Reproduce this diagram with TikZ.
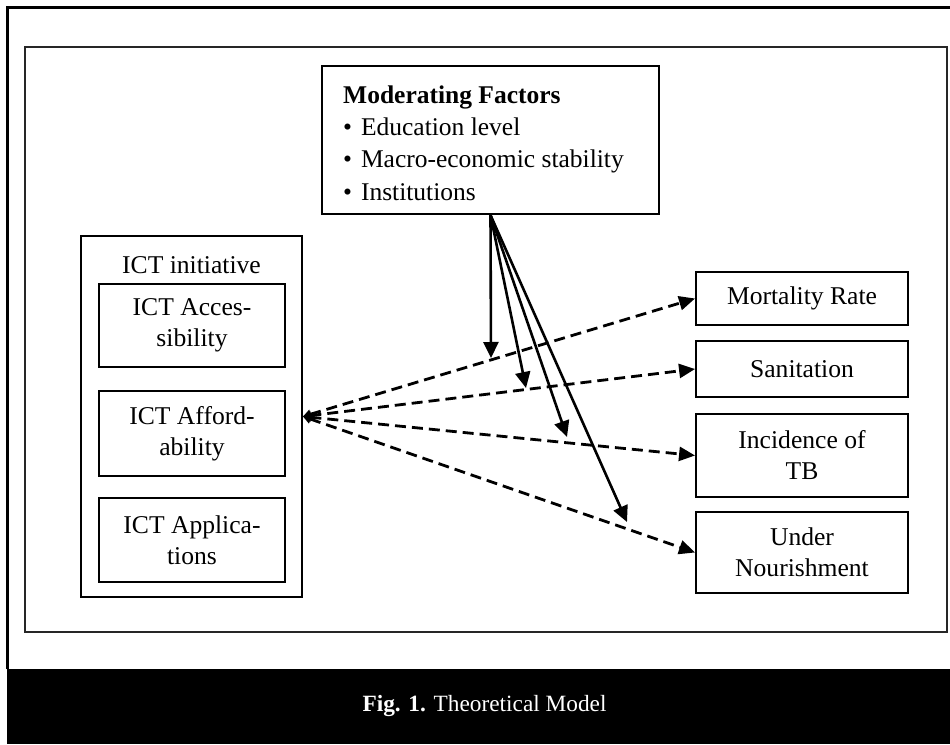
\documentclass[tikz,border=0pt]{standalone}
\usepackage{fontspec}
\setmainfont{Liberation Serif}
\usetikzlibrary{arrows.meta}
\begin{document}
\begin{tikzpicture}[x=1pt,y=-1pt,
  txt/.style={font=\fontsize{25.6}{31}\selectfont},
  modtxt/.style={font=\fontsize{25.5}{32}\selectfont, anchor=base west, inner sep=0pt},
  box/.style={draw=black, line width=1.9pt, align=center, inner sep=0pt, txt},
  dashlink/.style={line width=2.8pt, dash pattern=on 11pt off 6pt,
     {Triangle[length=8pt,width=9pt]}-{Triangle[length=16pt,width=14pt]}},
  modlink/.style={line width=2.6pt, -{Triangle[length=16pt,width=15pt]}}
]
\useasboundingbox (0,0) rectangle (950,744);
% outer frame and caption band
\draw[line width=2.2pt] (7.5,669) -- (7.5,7.5) -- (960,7.5);
\fill[black] (6.5,669) rectangle (950,744);
\node[anchor=base, text=white, inner sep=0pt, font=\fontsize{23.3}{28}\selectfont] (cap) at (484.5,711) {\textbf{Fig. 1.} Theoretical Model};
% inner frame
\draw[line width=2pt, draw=black!85] (25,47) rectangle (946.5,631.5);

% moderating factors
\node[box, line width=2.2pt, minimum width=337pt, minimum height=148pt] (mod) at (490.5,140) {};
\node[modtxt] (modtitle) at (343,103) {\textbf{Moderating Factors}};
\node[modtxt] (mod1) at (343,135) {•\hspace{0.35em}Education level};
\node[modtxt] (mod2) at (343,167) {•\hspace{0.35em}Macro-economic stability};
\node[modtxt] (mod3) at (343,200) {•\hspace{0.35em}Institutions};

% ICT initiative
\node[box, minimum width=221pt, minimum height=361pt] (ict) at (191.5,416.5) {};
\node[txt, anchor=base, inner sep=0pt] (icttitle) at (191.5,273) {ICT initiative};
\node[box, minimum width=186pt, minimum height=83pt] (acc) at (192,325.5) {ICT Acces-\\sibility};
\node[box, minimum width=186pt, minimum height=85pt] (aff) at (192,433.5) {ICT Afford-\\ability};
\node[box, minimum width=186pt, minimum height=84pt] (app) at (192,540) {ICT Applica-\\tions};

% outcomes
\node[box, minimum width=212pt, minimum height=53pt] (mort) at (802,298.5) {Mortality Rate};
\node[box, minimum width=212pt, minimum height=56pt] (san) at (802,369) {Sanitation};
\node[box, minimum width=212pt, minimum height=83pt] (tb) at (802,455.5) {Incidence of\\TB};
\node[box, minimum width=212pt, minimum height=81pt] (nour) at (802,552.5) {Under\\Nourishment};

% dashed links
\draw[dashlink] (ict.east) -- (mort.west);
\draw[dashlink] (ict.east) -- (san.west);
\draw[dashlink] (ict.east) -- (tb.west);
\draw[dashlink] (ict.east) -- (nour.west);

% moderating arrows
\coordinate (t1) at (491,358);
\coordinate (t2) at (526,388);
\coordinate (t3) at (567,437);
\coordinate (t4) at (627,522);
\draw[modlink] (mod.south) -- (t1);
\draw[modlink] (mod.south) -- (t2);
\draw[modlink] (mod.south) -- (t3);
\draw[modlink] (mod.south) -- (t4);
\end{tikzpicture}
\end{document}
